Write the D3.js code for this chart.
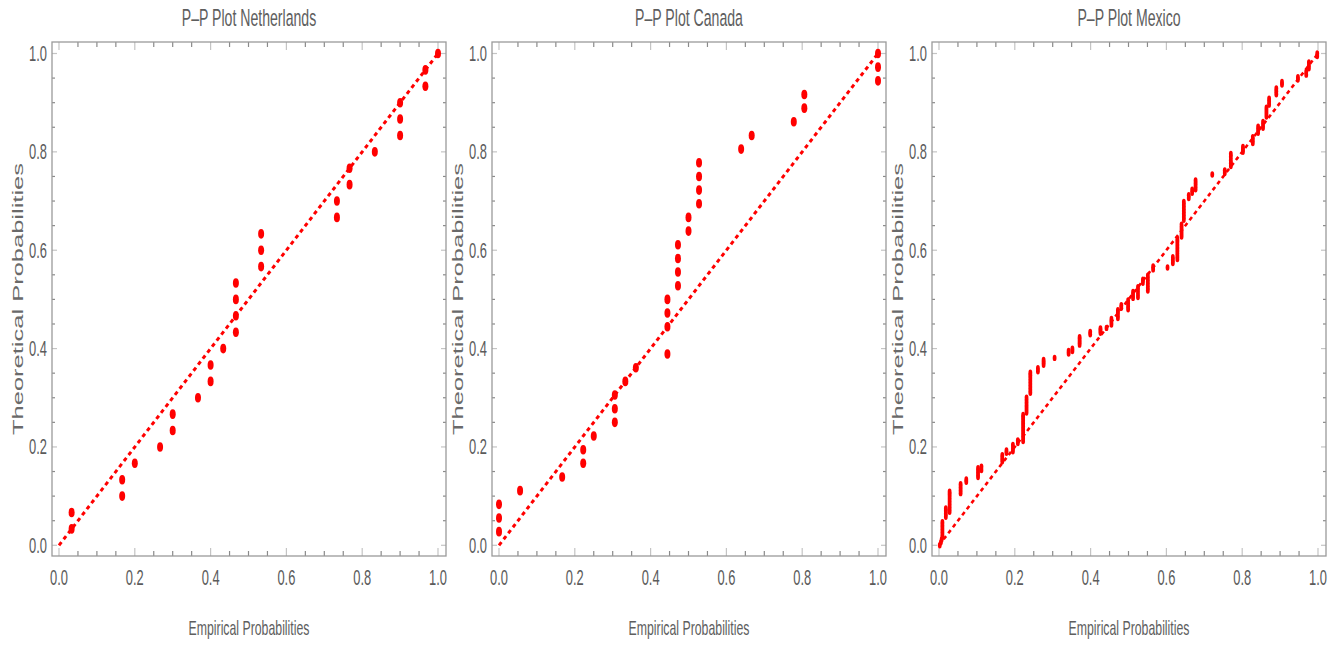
<!DOCTYPE html>
<html>
<head>
<meta charset="utf-8">
<script src="https://cdn.jsdelivr.net/npm/d3@7"></script>
<style>
  body { margin: 0; background: #fff; }
  text { font-family: "Liberation Sans", Arial, sans-serif; }
</style>
</head>
<body>
<div id="chart"></div>
<script>
// panel names
var countries = ["Netherlands", "Canada", "Mexico"];

// tick labels on both axes
var tickLabels = ["0.0", "0.2", "0.4", "0.6", "0.8", "1.0"];

// Netherlands: empirical (x) and theoretical (y) probabilities
var nlEmpirical = [0.0333, 0.0333, 0.1667, 0.1667, 0.2, 0.2667, 0.3, 0.3, 0.3667, 0.4, 0.4, 0.4333,
  0.4667, 0.4667, 0.4667, 0.4667, 0.5333, 0.5333, 0.5333, 0.7333, 0.7333, 0.7667, 0.7667, 0.8333,
  0.9, 0.9, 0.9, 0.9667, 0.9667, 1.0];
var nlTheoretical = [0.0333, 0.0667, 0.1, 0.1333, 0.1667, 0.2, 0.2333, 0.2667, 0.3, 0.3333, 0.3667, 0.4,
  0.4333, 0.4667, 0.5, 0.5333, 0.5667, 0.6, 0.6333, 0.6667, 0.7, 0.7333, 0.7667, 0.8,
  0.8333, 0.8667, 0.9, 0.9333, 0.9667, 1.0];

// Canada
var caEmpirical = [0, 0, 0, 0.0556, 0.1667, 0.2222, 0.2222, 0.25, 0.3056, 0.3056, 0.3056, 0.3333, 0.3611,
  0.4444, 0.4444, 0.4444, 0.4444, 0.4722, 0.4722, 0.4722, 0.4722, 0.5, 0.5, 0.5278, 0.5278, 0.5278, 0.5278,
  0.6389, 0.6667, 0.7778, 0.8056, 0.8056, 1.0, 1.0, 1.0];
var caTheoretical = [0.0278, 0.0556, 0.0833, 0.1111, 0.1389, 0.1667, 0.1944, 0.2222, 0.25, 0.2778, 0.3056, 0.3333, 0.3611,
  0.3889, 0.4444, 0.4722, 0.5, 0.5278, 0.5556, 0.5833, 0.6111, 0.6389, 0.6667, 0.6944, 0.7222, 0.75, 0.7778,
  0.8056, 0.8333, 0.8611, 0.8889, 0.9167, 0.9444, 0.9722, 1.0];

// Mexico
var mxEmpirical = [0.002, 0.005, 0.007,
  0.009, 0.009, 0.009, 0.009, 0.009, 0.009,
  0.018, 0.018, 0.018, 0.018,
  0.028, 0.028, 0.028, 0.028, 0.028, 0.028, 0.028, 0.028,
  0.057, 0.057, 0.057, 0.057, 0.072, 0.072,
  0.103, 0.103, 0.103, 0.103, 0.112, 0.112,
  0.167, 0.167, 0.167, 0.178, 0.178, 0.195, 0.195, 0.195, 0.208, 0.208,
  0.222, 0.222, 0.222, 0.222, 0.222, 0.222, 0.222, 0.222, 0.222, 0.222,
  0.231, 0.231, 0.231, 0.231, 0.231, 0.231,
  0.241, 0.241, 0.241, 0.241, 0.241, 0.241, 0.241, 0.241,
  0.261, 0.261, 0.276, 0.276, 0.276, 0.305, 0.342, 0.342, 0.352, 0.352,
  0.371, 0.371, 0.371, 0.371, 0.399, 0.399, 0.426, 0.426, 0.426, 0.442,
  0.455, 0.455, 0.455, 0.472, 0.472, 0.472, 0.472, 0.481, 0.481,
  0.499, 0.499, 0.499, 0.499, 0.512, 0.512, 0.512, 0.525, 0.525, 0.525, 0.525,
  0.538, 0.538, 0.551, 0.551, 0.551, 0.551, 0.551, 0.551, 0.565, 0.565,
  0.603, 0.617, 0.617, 0.617,
  0.629, 0.629, 0.629, 0.629, 0.629, 0.629, 0.629, 0.629,
  0.640, 0.640, 0.640, 0.640, 0.640,
  0.646, 0.646, 0.646, 0.646, 0.646, 0.646, 0.646,
  0.659, 0.659, 0.668, 0.668, 0.677, 0.677, 0.677, 0.677,
  0.721, 0.754, 0.754, 0.770, 0.770, 0.770, 0.770, 0.770,
  0.802, 0.802, 0.802, 0.828, 0.828, 0.828, 0.842, 0.842, 0.842, 0.855, 0.855, 0.855,
  0.864, 0.864, 0.864, 0.864, 0.871, 0.871, 0.871, 0.890, 0.890, 0.890, 0.905, 0.905,
  0.947, 0.947, 0.969, 0.969, 0.976, 0.976, 0.976, 0.998, 0.998];
var mxTheoretical = [0.000, 0.006, 0.012,
  0.017, 0.023, 0.029, 0.035, 0.041, 0.047,
  0.058, 0.064, 0.070, 0.075,
  0.068, 0.074, 0.080, 0.086, 0.092, 0.098, 0.104, 0.109,
  0.106, 0.112, 0.118, 0.124, 0.129, 0.134,
  0.139, 0.145, 0.151, 0.157, 0.153, 0.160,
  0.171, 0.177, 0.183, 0.188, 0.193, 0.191, 0.197, 0.204, 0.208, 0.213,
  0.212, 0.218, 0.224, 0.230, 0.236, 0.242, 0.248, 0.254, 0.260, 0.265,
  0.270, 0.276, 0.282, 0.288, 0.294, 0.300,
  0.310, 0.316, 0.322, 0.328, 0.334, 0.340, 0.346, 0.351,
  0.354, 0.360, 0.367, 0.372, 0.377, 0.381, 0.390, 0.395, 0.395, 0.400,
  0.408, 0.413, 0.418, 0.423, 0.429, 0.434, 0.432, 0.437, 0.441, 0.442,
  0.449, 0.455, 0.460, 0.462, 0.468, 0.474, 0.478, 0.483, 0.488,
  0.480, 0.486, 0.492, 0.498, 0.503, 0.509, 0.515, 0.505, 0.512, 0.519, 0.525,
  0.534, 0.540, 0.518, 0.524, 0.530, 0.536, 0.542, 0.548, 0.561, 0.567,
  0.565, 0.574, 0.580, 0.586,
  0.582, 0.588, 0.594, 0.600, 0.606, 0.612, 0.618, 0.623,
  0.628, 0.634, 0.640, 0.646, 0.652,
  0.662, 0.668, 0.674, 0.680, 0.686, 0.692, 0.698,
  0.706, 0.712, 0.717, 0.723, 0.724, 0.730, 0.736, 0.742,
  0.754, 0.757, 0.762, 0.771, 0.777, 0.783, 0.790, 0.796,
  0.800, 0.805, 0.810, 0.818, 0.824, 0.830, 0.839, 0.845, 0.851, 0.849, 0.855, 0.861,
  0.872, 0.878, 0.884, 0.890, 0.896, 0.902, 0.908, 0.917, 0.923, 0.929, 0.937, 0.942,
  0.947, 0.952, 0.957, 0.963, 0.970, 0.976, 0.982, 0.995, 1.0];

var empirical = [nlEmpirical, caEmpirical, mxEmpirical];
var theoretical = [nlTheoretical, caTheoretical, mxTheoretical];

var width = 1335, height = 649;
var panelLeft = [52, 492, 932], panelWidth = 394;
var frameTop = 42, frameBottom = 556;
var sx = 0.6; // the picture is squeezed horizontally

var svg = d3.select("#chart").append("svg")
    .attr("width", width)
    .attr("height", height);

// text squeezed in screen x
function squish(sel, x, y, rot) {
    sel.attr("transform", "translate(" + x + "," + y + ") scale(" + sx + ",1)" + (rot ? " rotate(" + rot + ")" : ""));
    return sel;
}

countries.forEach(function(name, i) {
    var L = panelLeft[i], R = L + panelWidth;
    var g = svg.append("g");

    var x = d3.scaleLinear().domain([0, 1]).range([L + 7, R - 8]);
    var y = d3.scaleLinear().domain([0, 1]).range([545.3, 53.5]);

    var major = x.ticks(5), minor = x.ticks(20).filter(function(t) { return major.indexOf(t) < 0; });

    // ticks on all four sides, pointing inward
    var tk = g.append("g");
    function vTicks(vals, len, col) {
        vals.forEach(function(t) {
            tk.append("line").attr("x1", x(t)).attr("x2", x(t)).attr("y1", frameBottom).attr("y2", frameBottom - len)
                .attr("stroke", col).attr("stroke-width", 1.2);
            tk.append("line").attr("x1", x(t)).attr("x2", x(t)).attr("y1", frameTop).attr("y2", frameTop + len)
                .attr("stroke", col).attr("stroke-width", 1.2);
        });
    }
    function hTicks(vals, len, col) {
        vals.forEach(function(t) {
            tk.append("line").attr("y1", y(t)).attr("y2", y(t)).attr("x1", L).attr("x2", L + len)
                .attr("stroke", col).attr("stroke-width", 1.2);
            tk.append("line").attr("y1", y(t)).attr("y2", y(t)).attr("x1", R).attr("x2", R - len)
                .attr("stroke", col).attr("stroke-width", 1.2);
        });
    }
    vTicks(minor, 5, "#8a8a8a");
    vTicks(major, 8, "#c4c4c4");
    hTicks(minor, 3, "#8a8a8a");
    hTicks(major, 5, "#c4c4c4");

    // frame
    g.append("rect")
        .attr("x", L).attr("y", frameTop)
        .attr("width", panelWidth).attr("height", frameBottom - frameTop)
        .attr("fill", "none").attr("stroke", "#9a9a9a").attr("stroke-width", 1.3);

    // tick labels
    major.forEach(function(t, k) {
        squish(g.append("text"), x(t), 585)
            .attr("text-anchor", "middle").attr("font-size", 21.5).attr("fill", "#5b5b5b")
            .text(tickLabels[k]);
        squish(g.append("text"), L - 5, y(t) + 7.5)
            .attr("text-anchor", "end").attr("font-size", 21.5).attr("fill", "#5b5b5b")
            .text(tickLabels[k]);
    });

    // reference line
    g.append("line")
        .attr("x1", x(0)).attr("y1", y(0)).attr("x2", x(1)).attr("y2", y(1))
        .attr("stroke", "#ff0000")
        .attr("stroke-width", i === 2 ? 2.6 : 3)
        .attr("stroke-dasharray", "4,3.6");

    // points
    var pts = empirical[i].map(function(v, k) { return [v, theoretical[i][k]]; });
    g.selectAll("ellipse")
        .data(pts)
        .enter().append("ellipse")
        .attr("cx", function(d) { return x(d[0]); })
        .attr("cy", function(d) { return y(d[1]); })
        .attr("rx", i === 2 ? 1.9 : 3)
        .attr("ry", i === 2 ? 3.2 : 4.8)
        .attr("fill", "#ff0000");

    // title and axis labels
    squish(g.append("text"), L + panelWidth / 2, 26)
        .attr("text-anchor", "middle").attr("font-size", 23.5).attr("fill", "#5e5e5e")
        .text("P\u2013P Plot " + name);
    squish(g.append("text"), L + panelWidth / 2, 635)
        .attr("text-anchor", "middle").attr("font-size", 20.5).attr("fill", "#5e5e5e")
        .text("Empirical Probabilities");
    squish(g.append("text"), L - 29, (frameTop + frameBottom) / 2, -90)
        .attr("text-anchor", "middle").attr("font-size", 25.5).attr("fill", "#6a6a6a")
        .text("Theoretical Probabilities");
});
</script>
</body>
</html>
